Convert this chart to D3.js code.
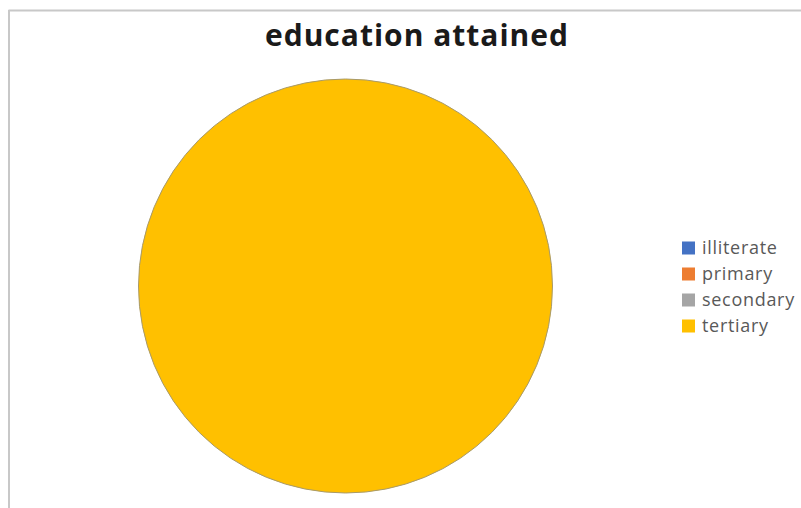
<!DOCTYPE html>
<html><head><meta charset="utf-8">
<script src="https://cdn.jsdelivr.net/npm/d3@7"></script>
<style>body{margin:0;background:#fff}svg{display:block}</style>
</head><body>
<svg id="c" width="801" height="508"></svg>
<script>
const categories = ["illiterate", "primary", "secondary", "tertiary"];
const values = [0, 0, 0, 100];
const colors = ["#4472C4", "#ED7D31", "#A5A5A5", "#FFC000"];
const title = "education attained";

const svg = d3.select("#c");
// chart frame (top and left edges visible)
svg.append("line").attr("x1", 8.5).attr("x2", 801).attr("y1", 10.5).attr("y2", 10.5).attr("stroke", "#c8c8c8").attr("stroke-width", 2);
svg.append("line").attr("x1", 9).attr("x2", 9).attr("y1", 10).attr("y2", 508).attr("stroke", "#c8c8c8").attr("stroke-width", 2);

svg.append("text").attr("x", 417).attr("y", 46).attr("text-anchor", "middle")
  .attr("font-family", "Open Sans, sans-serif").attr("font-weight", "bold").attr("font-size", 30)
  .attr("letter-spacing", 1).attr("fill", "#1a1a1a").text(title);

const data = categories.map((c, i) => ({cat: c, value: values[i], color: colors[i]}));
const pie = d3.pie().sort(null).value(d => d.value);
const arc = d3.arc().innerRadius(0).outerRadius(207);
const g = svg.append("g").attr("transform", "translate(345.5,286)");
g.selectAll("path").data(pie(data).filter(d => d.data.value > 0)).join("path")
  .attr("d", arc).attr("fill", d => d.data.color)
  .attr("stroke", "#a89a6a").attr("stroke-width", 1);

const color = d3.scaleOrdinal().domain(categories).range(colors);
const y = d3.scalePoint().domain(categories).range([248, 326]);
const lg = svg.append("g");
const items = lg.selectAll("g").data(categories).join("g").attr("transform", d => `translate(682,${y(d)})`);
items.append("rect").attr("x", 0).attr("y", -6.5).attr("width", 13).attr("height", 13).attr("fill", d => color(d));
items.append("text").attr("x", 20).attr("y", 0).attr("dy", "0.35em")
  .attr("font-family", "Open Sans, sans-serif").attr("font-size", 18).attr("letter-spacing", 0.7)
  .attr("fill", "#595959").text(d => d);
</script>
</body></html>
